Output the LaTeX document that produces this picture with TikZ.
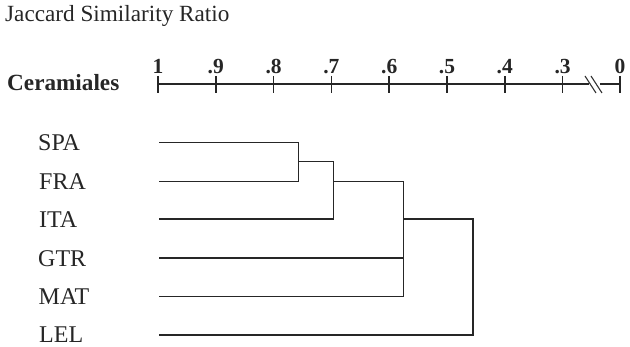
\documentclass[tikz,border=0pt]{standalone}
\usepackage{fontspec}
\setmainfont{Liberation Serif}
\usetikzlibrary{calc}
\begin{document}
\begin{tikzpicture}[x=1pt,y=-1pt,
  ln/.style={line width=1.6pt,draw=black!85},
  leaf/.style={anchor=west,inner sep=0pt,font=\fontsize{24}{26}\selectfont,text=black!85},
  ticklab/.style={anchor=base,inner sep=0pt,font=\bfseries\fontsize{21.5}{23}\selectfont,text=black!85}]
\useasboundingbox (0,0) rectangle (630,347);
% title
\node[anchor=base west,inner sep=0pt,font=\fontsize{23.2}{25}\selectfont,text=black!85] (title) at (5,21.5) {Jaccard Similarity Ratio};
\node[anchor=base west,inner sep=0pt,font=\bfseries\fontsize{23.2}{26}\selectfont,text=black!85] (cer) at (7,91) {Ceramiales};
% axis
\coordinate (a0) at (158,84);
\coordinate (brk1) at (589,84);
\coordinate (brk2) at (600,84);
\coordinate (aend) at (620,84);
\draw[ln] (a0) -- (brk1);
\draw[ln] (brk2) -- (aend);
\draw[line width=1.1pt,draw=black!80] (585,76) -- (596,93);
\draw[line width=1.1pt,draw=black!80] (591,76) -- (602,93);
\foreach \i/\lab in {0/1,1/.9,2/.8,3/.7,4/.6,5/.5,6/.4,7/.3}{
  \coordinate (t\i) at ({158+57.8*\i},84);
  \draw[ln] ($(t\i)+(0,-8)$) -- ($(t\i)+(0,9)$);
  \node[ticklab] (l\i) at ({158+57.8*\i},74) {\lab};
}
\draw[ln] (620,76) -- (620,93);
\node[ticklab] (lz) at (620,74) {0};
% leaf labels
\node[leaf] (SPA) at (38,142.7) {SPA};
\node[leaf] (FRA) at (39,181.7) {FRA};
\node[leaf] (ITA) at (39,219.3) {ITA};
\node[leaf] (GTR) at (38,258.3) {GTR};
\node[leaf] (MAT) at (38.5,296.7) {MAT};
\node[leaf] (LEL) at (39,335) {LEL};
% leaf line starts
\coordinate (sSPA) at (159,142.7);
\coordinate (sFRA) at (159,181.7);
\coordinate (sITA) at (159,219.3);
\coordinate (sGTR) at (159,258.3);
\coordinate (sMAT) at (159,296.7);
\coordinate (sLEL) at (159,335);
% merge points
\coordinate (m1) at (298.3,161.7);
\coordinate (m2) at (333.3,181.7);
\coordinate (m3) at (403.3,219.3);
\coordinate (m4) at (472.7,219.3);
% dendrogram
\draw[ln] (sSPA) -| (m1 |- sFRA) -- (sFRA);
\draw[ln] (m1) -| (m2 |- sITA) -- (sITA);
\draw[ln] (m2 |- sFRA) -| (m3 |- sMAT) -- (sMAT);
\draw[ln] (sGTR) -- (m3 |- sGTR);
\draw[ln] (m3) -| (m4 |- sLEL) -- (sLEL);
\end{tikzpicture}
\end{document}
